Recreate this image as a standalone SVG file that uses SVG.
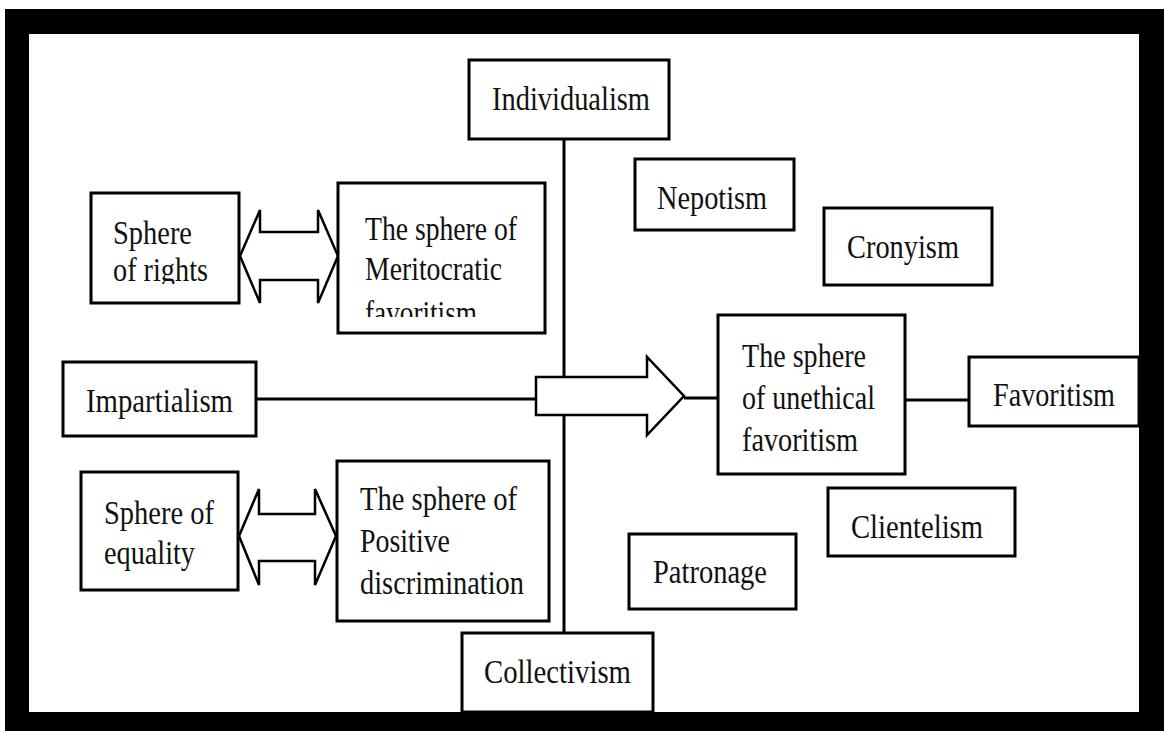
<svg xmlns="http://www.w3.org/2000/svg" width="1165" height="731" viewBox="0 0 1165 731">
<style>
.box{fill:#fff;stroke:#000;stroke-width:3}
.ln{fill:none;stroke:#000;stroke-width:3}
.arr{fill:#fff;stroke:#000;stroke-width:2.5;stroke-linejoin:miter}
text{font-family:"Liberation Serif","Times New Roman",serif;font-size:34px;fill:#111}
</style>
<defs>
<clipPath id="clipRights"><rect x="92" y="194" width="146" height="90"/></clipPath>
<clipPath id="clipMerit"><rect x="339" y="184" width="205" height="133"/></clipPath>
</defs>
<rect x="0" y="0" width="1165" height="731" fill="#fff"/>
<path d="M5 9H1164V731H5Z M29 34V712H1139V34Z" fill="#000" fill-rule="evenodd"/>
<g id="connectors">
<line class="ln" x1="564" y1="139" x2="564" y2="633"/>
<line class="ln" x1="256" y1="399" x2="536" y2="399"/>
<line class="ln" x1="684" y1="398" x2="718" y2="398"/>
<line class="ln" x1="905" y1="400" x2="969" y2="400"/>
<polygon class="arr" points="536,377 647,377 647,357 684,396 647,435 647,415 536,415"/>
<polygon class="arr" points="240,256 260,210 260,232 318,232 318,210 338,256 318,303 318,280 260,280 260,303"/>
<polygon class="arr" points="239,536 259,489 259,514 315,514 315,489 336,536 315,585 315,561 259,561 259,585"/>
</g>
<g id="individualism"><rect class="box" x="469" y="60" width="200" height="79"/><text x="492" y="110" textLength="158" lengthAdjust="spacingAndGlyphs">Individualism</text></g>
<g id="nepotism"><rect class="box" x="635" y="159" width="159" height="71"/><text x="657" y="209" textLength="110" lengthAdjust="spacingAndGlyphs">Nepotism</text></g>
<g id="cronyism"><rect class="box" x="824" y="208" width="168" height="77"/><text x="847" y="258" textLength="112" lengthAdjust="spacingAndGlyphs">Cronyism</text></g>
<g id="sphere-rights"><rect class="box" x="91" y="193" width="148" height="110"/><text x="113" y="244" textLength="79" lengthAdjust="spacingAndGlyphs">Sphere</text><text x="113" y="281" textLength="95" lengthAdjust="spacingAndGlyphs" clip-path="url(#clipRights)">of rights</text></g>
<g id="meritocratic"><rect class="box" x="338" y="183" width="207" height="150"/><text x="365" y="240" textLength="152" lengthAdjust="spacingAndGlyphs">The sphere of</text><text x="365" y="280" textLength="137" lengthAdjust="spacingAndGlyphs">Meritocratic</text><text x="365" y="324" textLength="112" lengthAdjust="spacingAndGlyphs" clip-path="url(#clipMerit)">favoritism</text></g>
<g id="impartialism"><rect class="box" x="63" y="362" width="193" height="74"/><text x="86" y="412" textLength="147" lengthAdjust="spacingAndGlyphs">Impartialism</text></g>
<g id="unethical"><rect class="box" x="718" y="315" width="187" height="159"/><text x="742" y="367" textLength="124" lengthAdjust="spacingAndGlyphs">The sphere</text><text x="742" y="409" textLength="133" lengthAdjust="spacingAndGlyphs">of unethical</text><text x="742" y="451" textLength="116" lengthAdjust="spacingAndGlyphs">favoritism</text></g>
<g id="favoritism"><rect class="box" x="969" y="357" width="170" height="69"/><text x="993" y="406" textLength="122" lengthAdjust="spacingAndGlyphs">Favoritism</text></g>
<g id="clientelism"><rect class="box" x="828" y="488" width="187" height="68"/><text x="851" y="538" textLength="132" lengthAdjust="spacingAndGlyphs">Clientelism</text></g>
<g id="patronage"><rect class="box" x="629" y="534" width="167" height="75"/><text x="653" y="583" textLength="114" lengthAdjust="spacingAndGlyphs">Patronage</text></g>
<g id="sphere-equality"><rect class="box" x="81" y="472" width="157" height="118"/><text x="104" y="524" textLength="110" lengthAdjust="spacingAndGlyphs">Sphere of</text><text x="104" y="564" textLength="91" lengthAdjust="spacingAndGlyphs">equality</text></g>
<g id="positive"><rect class="box" x="337" y="461" width="212" height="160"/><text x="360" y="510" textLength="157" lengthAdjust="spacingAndGlyphs">The sphere of</text><text x="360" y="552" textLength="90" lengthAdjust="spacingAndGlyphs">Positive</text><text x="360" y="594" textLength="164" lengthAdjust="spacingAndGlyphs">discrimination</text></g>
<g id="collectivism"><rect class="box" x="462" y="633" width="191" height="79"/><text x="484" y="683" textLength="147" lengthAdjust="spacingAndGlyphs">Collectivism</text></g>
</svg>
